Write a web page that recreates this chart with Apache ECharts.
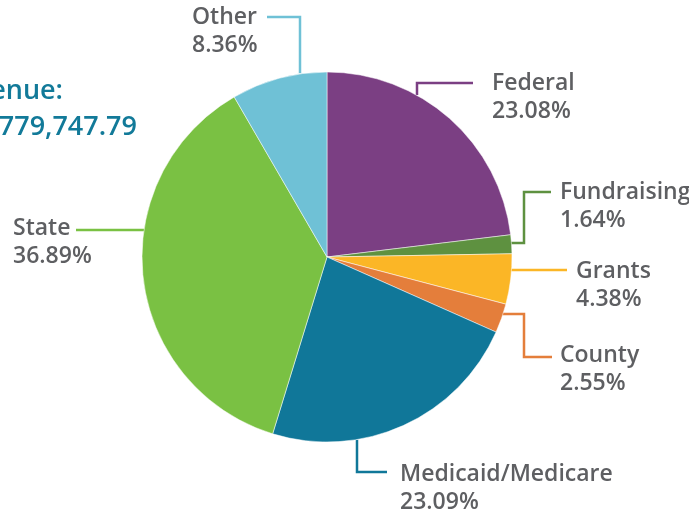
<!DOCTYPE html>
<html>
<head>
<meta charset="utf-8">
<script src="https://cdn.jsdelivr.net/npm/echarts@6/dist/echarts.min.js"></script>
<style>
  html, body { margin: 0; padding: 0; background: #fff; }
  #revenue-chart { width: 689px; height: 515px; }
</style>
</head>
<body>
<div id="revenue-chart"></div>
<script>
// revenue sources, clockwise from 12 o'clock
const categories = ["Federal", "Fundraising", "Grants", "County", "Medicaid/Medicare", "State", "Other"];
const shares = [23.08, 1.64, 4.38, 2.55, 23.09, 36.89, 8.36];
const colors = ["#7b3f83", "#5e9140", "#fbb626", "#e47e3b", "#107799", "#7ac143", "#6fc1d6"];

// label anchors (left, top of first line) and leader lines
const labelPos = [
  [492, 69], [560, 178], [576, 257], [560, 341], [400, 460], [13, 214], [192, 3]
];
const leaders = [
  [[417, 95], [417, 83], [473, 83]],
  [[510, 243], [524, 243], [524, 192], [551, 192]],
  [[511, 270], [567, 270]],
  [[502, 314], [524, 314], [524, 357], [552, 357]],
  [[357, 440], [357, 472], [387, 472]],
  [[144, 230], [76, 230]],
  [[300, 73], [300, 17], [267, 17]]
];

const myChart = echarts.init(document.getElementById("revenue-chart"));

myChart.setOption({
  animation: false,
  graphic: [
    {
      type: "text",
      x: 63,
      y: 91,
      style: {
        text: "Total Revenue:",
        align: "right",
        verticalAlign: "middle",
        fill: "#127a99",
        font: "600 27px 'Open Sans'",
      },
    },
    {
      type: "text",
      x: 137,
      y: 127,
      style: {
        text: "$1,779,747.79",
        align: "right",
        verticalAlign: "middle",
        fill: "#127a99",
        font: "600 27px 'Open Sans'",
      },
    },
  ].concat(
    leaders.map((pts, i) => ({
      type: "polyline",
      shape: { points: pts },
      style: { stroke: colors[i], lineWidth: 2.5, fill: null },
    }))
  ),
  series: [
    {
      type: "pie",
      center: [327, 257],
      radius: 185,
      startAngle: 90,
      clockwise: true,
      itemStyle: { borderColor: "#fff", borderWidth: 0.5 },
      label: {
        show: true,
        formatter: (p) => p.name + "\n" + p.value.toFixed(2) + "%",
        color: "#5e5f62",
        fontFamily: "Open Sans",
        fontSize: 23,
        fontWeight: 600,
        lineHeight: 28,
        overflow: "none",
      },
      labelLine: { show: false },
      labelLayout: (params) => ({
        x: labelPos[params.dataIndex][0],
        y: labelPos[params.dataIndex][1],
        align: "left",
        verticalAlign: "top",
      }),
      data: categories.map((name, i) => ({
        name: name,
        value: shares[i],
        itemStyle: { color: colors[i] },
      })),
    },
  ],
});
</script>
</body>
</html>
